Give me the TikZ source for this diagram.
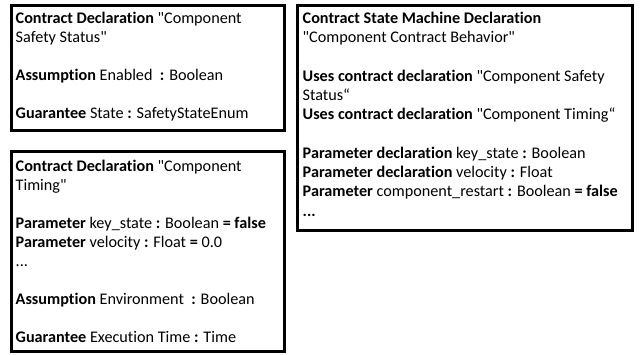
\documentclass[tikz,border=0pt]{standalone}
\usepackage{fontspec}
\setmainfont{Carlito}[Ligatures={NoCommon}]
\newcommand{\dq}{\textquotedbl}
\begin{document}
\begin{tikzpicture}[x=1pt,y=-1pt,
  box/.style={draw=black,line width=3pt},
  txt/.style={anchor=north west,inner sep=0pt,align=left,font=\fontsize{16.2}{19}\selectfont},
  txtwide/.style={txt,font=\fontsize{16.2}{19.3}\selectfont}]
\useasboundingbox (0,0) rectangle (640,354);
\draw[box] (11.5,5) rectangle (284,130);
\draw[box] (11.5,151.5) rectangle (284,351.5);
\draw[box] (297.5,5) rectangle (632.5,230.5);
\node[txt] (t1) at (15.5,11.5) {\rule{0pt}{11.5pt}\textbf{Contract Declaration} \dq Component\\
Safety Status\dq\\[19pt]
\textbf{Assumption} Enabled \ \textbf{:} Boolean\\[19pt]
\textbf{Guarantee} State \textbf{:} SafetyStateEnum};
\node[txt] (t2) at (15.5,159.5) {\rule{0pt}{11.5pt}\textbf{Contract Declaration} \dq Component\\
Timing\dq\\[19pt]
\textbf{Parameter} key\_state \textbf{:} Boolean \textbf{= false}\\
\textbf{Parameter} velocity \textbf{:} Float \textbf{=} 0.0\\
...\\[19pt]
\textbf{Assumption} Environment \ \textbf{:} Boolean\\[19pt]
\textbf{Guarantee} Execution Time \textbf{:} Time};
\node[txtwide] (t3) at (302.5,11.5) {\rule{0pt}{11.5pt}\textbf{Contract State Machine Declaration}\\
\dq Component Contract Behavior\dq\\[19.3pt]
\textbf{Uses contract declaration} \dq Component Safety\\
Status“\\
\textbf{Uses contract declaration} \dq Component Timing“\\[19.3pt]
\textbf{Parameter declaration} key\_state \textbf{:} Boolean\\
\textbf{Parameter declaration} velocity \textbf{:} Float\\
\textbf{Parameter} component\_restart \textbf{:} Boolean \textbf{= false}\\
\textbf{...}};
\end{tikzpicture}
\end{document}
